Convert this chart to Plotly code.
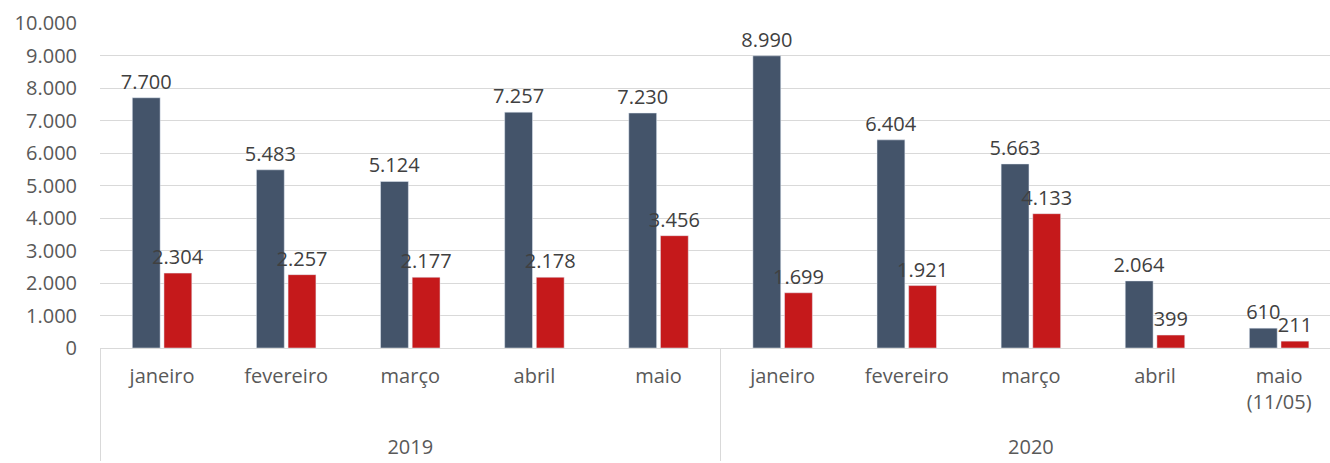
import plotly.graph_objects as go

years = ["2019"] * 5 + ["2020"] * 5
months = ["janeiro", "fevereiro", "março", "abril", "maio",
          "janeiro", "fevereiro", "março", "abril",
          "maio<br>(11/05)<br>&nbsp;"]
serie_a = [7700, 5483, 5124, 7257, 7230, 8990, 6404, 5663, 2064, 610]
serie_b = [2304, 2257, 2177, 2178, 3456, 1699, 1921, 4133, 399, 211]

FONT = "Open Sans"
fig = go.Figure()
fig.add_trace(go.Bar(x=[years, months], y=serie_a, marker_color="#44546A",
                     texttemplate="%{y:,}", textposition="outside",
                     constraintext="none",
                     textfont=dict(size=20, color="#404040", family=FONT),
                     cliponaxis=False, name="A"))
fig.add_trace(go.Bar(x=[years, months], y=serie_b, marker_color="#C5191B",
                     texttemplate="%{y:,}", textposition="outside",
                     constraintext="none",
                     textfont=dict(size=20, color="#404040", family=FONT),
                     cliponaxis=False, name="B"))

fig.update_layout(
    width=1330, height=463,
    margin=dict(l=100, r=0, t=23, b=115),
    paper_bgcolor="white", plot_bgcolor="white",
    separators=",.",
    showlegend=False,
    barmode="group", bargap=0.49, bargroupgap=0.12,
    font=dict(family=FONT, size=20, color="#595959"),
)
fig.update_yaxes(range=[0, 10000], dtick=1000, tickformat=",",
                 showgrid=True, gridcolor="#D9D9D9", gridwidth=1,
                 zeroline=False, showline=False, ticks="",
                 tickfont=dict(size=20, color="#595959"), ticklabelstandoff=22)
fig.update_xaxes(type="multicategory", range=[-0.5, 9.41],
                 showline=True, linecolor="#D9D9D9",
                 linewidth=1, showdividers=True, dividercolor="#D9D9D9",
                 dividerwidth=1, ticks="", ticklabelstandoff=10,
                 tickfont=dict(size=20, color="#595959"))

fig.write_html("out.html")
